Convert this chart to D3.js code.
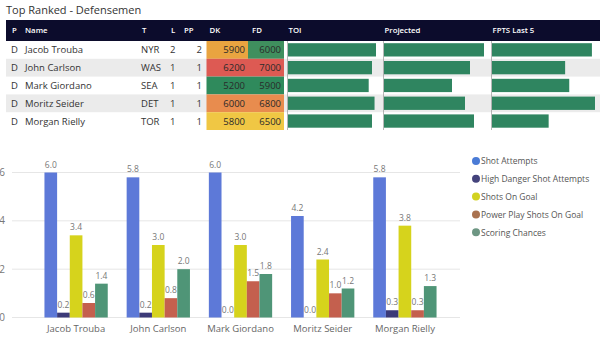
<!DOCTYPE html>
<html>
<head>
<meta charset="utf-8">
<title>Top Ranked - Defensemen</title>
<style>
  body { margin: 0; background: #fff; }
  text { font-family: "Segoe UI", "Open Sans", "Noto Sans", sans-serif; }
</style>
</head>
<body>
<script src="https://d3js.org/d3.v7.min.js"></script>
<script>
// ---- data ----
const players = ["Jacob Trouba", "John Carlson", "Mark Giordano", "Moritz Seider", "Morgan Rielly"];
const positions = ["D", "D", "D", "D", "D"];
const teams = ["NYR", "WAS", "SEA", "DET", "TOR"];
const lines = [2, 1, 1, 1, 1];
const ppUnits = [2, 1, 1, 1, 1];
const dkSalary = [5900, 6200, 5200, 6000, 5800];
const fdSalary = [6000, 7000, 5900, 6800, 6500];
const toi = [24.1, 23.0, 22.1, 23.7, 23.0];
const projected = [10.0, 8.6, 6.8, 8.1, 9.0];
const fptsLast5 = [9.7, 7.1, 7.5, 10.0, 5.5];

const seriesNames = ["Shot Attempts", "High Danger Shot Attempts", "Shots On Goal", "Power Play Shots On Goal", "Scoring Chances"];
const shotAttempts = [6.0, 5.8, 6.0, 4.2, 5.8];
const highDanger = [0.2, 0.2, 0.0, 0.0, 0.3];
const shotsOnGoal = [3.4, 3.0, 3.0, 2.4, 3.8];
const ppShotsOnGoal = [0.6, 0.8, 1.5, 1.0, 0.3];
const scoringChances = [1.4, 2.0, 1.8, 1.2, 1.3];
const yTicks = [0, 2, 4, 6];

// ---- layout ----
const width = 600, height = 350;
const svg = d3.select("body").append("svg")
    .attr("width", width)
    .attr("height", height);

// title
svg.append("text")
    .attr("x", 6).attr("y", 14)
    .attr("font-size", 11)
    .attr("fill", "#333")
    .text("Top Ranked - Defensemen");

renderTable(svg);
renderChart(svg);

function renderTable(root) {
    const top = 20, headH = 21, rowH = 17.8;
    const left = 6, right = 600;
    const colX = {P: 11, Name: 25, T: 141, L: 170, PP: 184, DK: 206.5, FD: 248, TOI: 287.5, Proj: 383.5, FPTS: 491.5};
    const dkEnd = 248, fdEnd = 284;

    const g = root.append("g").attr("class", "table");

    // header
    g.append("rect")
        .attr("x", left).attr("y", top)
        .attr("width", right - left).attr("height", headH)
        .attr("fill", "#0c0c2c");
    const headers = [
        ["P", colX.P + 1], ["Name", colX.Name], ["T", colX.T + 1], ["L", colX.L + 1], ["PP", colX.PP],
        ["DK", colX.DK + 3], ["FD", colX.FD + 4], ["TOI", colX.TOI + 1], ["Projected", colX.Proj + 1], ["FPTS Last 5", colX.FPTS + 1]
    ];
    g.selectAll("text.head")
        .data(headers)
        .join("text")
        .attr("class", "head")
        .attr("x", d => d[1])
        .attr("y", top + 13)
        .attr("font-size", 7.8)
        .attr("font-weight", 600)
        .attr("fill", "#fff")
        .text(d => d[0]);

    // row scale
    const rowY = d3.scaleBand()
        .domain(d3.range(players.length))
        .range([top + headH, top + headH + rowH * players.length]);

    // banded backgrounds
    g.selectAll("rect.band")
        .data(d3.range(players.length).filter(i => i % 2 === 1))
        .join("rect")
        .attr("class", "band")
        .attr("x", left).attr("y", i => rowY(i))
        .attr("width", right - left).attr("height", rowY.bandwidth())
        .attr("fill", "#ebebeb");

    // salary colours
    const dkColors = ["#e9a440", "#dd5a53", "#2f8a5c", "#e88c4e", "#f0c744"];
    const fdColors = ["#3f8f5e", "#dd5a53", "#2f8a5c", "#e88c4e", "#f0c744"];

    const rows = g.selectAll("g.row")
        .data(d3.range(players.length))
        .join("g")
        .attr("class", "row")
        .attr("transform", i => `translate(0, ${rowY(i)})`);

    rows.append("rect")
        .attr("x", colX.DK).attr("width", dkEnd - colX.DK)
        .attr("height", rowY.bandwidth())
        .attr("fill", i => dkColors[i]);
    rows.append("rect")
        .attr("x", colX.FD).attr("width", fdEnd - colX.FD)
        .attr("height", rowY.bandwidth())
        .attr("fill", i => fdColors[i]);

    const textY = rowY.bandwidth() / 2 + 3.5;
    const cell = (sel, x, anchor, fn) => sel.append("text")
        .attr("x", x).attr("y", textY)
        .attr("font-size", 9.5)
        .attr("fill", "#333")
        .attr("text-anchor", anchor)
        .text(fn);
    cell(rows, colX.P, "start", i => positions[i]);
    cell(rows, colX.Name, "start", i => players[i]);
    cell(rows, colX.T, "start", i => teams[i]);
    cell(rows, colX.L, "start", i => lines[i]);
    cell(rows, 202, "end", i => ppUnits[i]);
    cell(rows, dkEnd - 3, "end", i => dkSalary[i]).attr("fill", "#2a2a2a");
    cell(rows, fdEnd - 3, "end", i => fdSalary[i]).attr("fill", "#2a2a2a");

    // data bars
    const barCols = [
        {x: colX.TOI, vals: toi, scale: d3.scaleLinear().domain([0, d3.max(toi)]).range([0, 88])},
        {x: colX.Proj, vals: projected, scale: d3.scaleLinear().domain([0, 10]).range([0, 100])},
        {x: colX.FPTS, vals: fptsLast5, scale: d3.scaleLinear().domain([0, 10]).range([0, 103])}
    ];
    barCols.forEach(c => {
        g.append("line")
            .attr("x1", c.x).attr("x2", c.x)
            .attr("y1", top + headH).attr("y2", top + headH + rowH * players.length)
            .attr("stroke", "#888").attr("stroke-width", 0.6);
        rows.append("rect")
            .attr("x", c.x + 0.5)
            .attr("y", 2.2)
            .attr("width", i => c.scale(c.vals[i]))
            .attr("height", rowY.bandwidth() - 4.5)
            .attr("fill", "#2f8560");
    });
}

function renderChart(root) {
    const series = [shotAttempts, highDanger, shotsOnGoal, ppShotsOnGoal, scoringChances];
    const colors = ["#5d79d8", "#3c3a78", "#d6d31c", "#c4604e", "#4f9577"];
    const legendColors = ["#4a7bd6", "#44437c", "#d2d220", "#a9724f", "#6d9683"];

    const scaleY = d3.scaleLinear().domain([0, 6]).range([317.5, 172.5]);
    const scaleX = d3.scaleBand()
        .domain(players)
        .range([35, 446])
        .paddingInner(0.23)
        .paddingOuter(0.115);
    const scaleSub = d3.scaleBand()
        .domain(d3.range(series.length))
        .range([0, scaleX.bandwidth()]);

    const g = root.append("g").attr("class", "chart");

    // grid + y labels
    g.selectAll("line.grid")
        .data(yTicks)
        .join("line")
        .attr("class", "grid")
        .attr("x1", 12).attr("x2", 460)
        .attr("y1", d => scaleY(d)).attr("y2", d => scaleY(d))
        .attr("stroke", "#e6e6e6").attr("stroke-width", 1);
    g.selectAll("text.ytick")
        .data(yTicks)
        .join("text")
        .attr("class", "ytick")
        .attr("x", 5).attr("y", d => scaleY(d) + 3.5)
        .attr("text-anchor", "end")
        .attr("font-size", 10)
        .attr("fill", "#777")
        .text(d => d);

    // bars
    const groups = g.selectAll("g.group")
        .data(players)
        .join("g")
        .attr("class", "group")
        .attr("transform", d => `translate(${scaleX(d)}, 0)`);

    series.forEach((vals, s) => {
        groups.append("rect")
            .attr("x", scaleSub(s))
            .attr("width", scaleSub.bandwidth())
            .attr("y", (d, i) => scaleY(vals[i]))
            .attr("height", (d, i) => scaleY(0) - scaleY(vals[i]))
            .attr("fill", colors[s]);
        groups.append("text")
            .attr("x", scaleSub(s) + scaleSub.bandwidth() / 2)
            .attr("y", (d, i) => scaleY(vals[i]) - 5)
            .attr("text-anchor", "middle")
            .attr("font-size", 8.5)
            .attr("fill", "#777")
            .text((d, i) => d3.format(".1f")(vals[i]));
    });

    // category labels
    g.selectAll("text.cat")
        .data(players)
        .join("text")
        .attr("class", "cat")
        .attr("x", d => scaleX(d) + scaleX.bandwidth() / 2)
        .attr("y", 332)
        .attr("text-anchor", "middle")
        .attr("font-size", 9.5)
        .attr("fill", "#666")
        .text(d => d);

    // legend
    const legend = g.selectAll("g.legend")
        .data(seriesNames)
        .join("g")
        .attr("class", "legend")
        .attr("transform", (d, i) => `translate(476, ${161 + i * 17.8})`);
    legend.append("circle")
        .attr("r", 4)
        .attr("fill", (d, i) => legendColors[i]);
    legend.append("text")
        .attr("x", 5)
        .attr("y", 3.3)
        .attr("font-size", 8.5)
        .attr("fill", "#555")
        .text(d => d);
}
</script>
</body>
</html>
